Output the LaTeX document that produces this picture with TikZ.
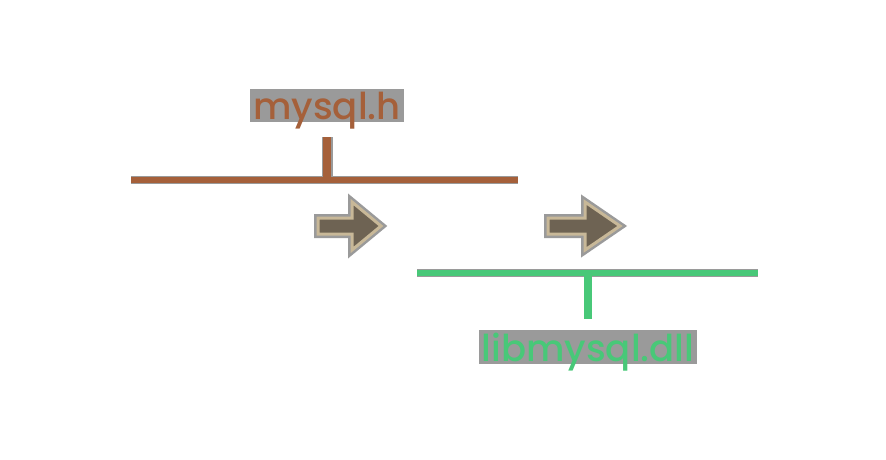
\documentclass[tikz,border=0pt]{standalone}
\usepackage{fontspec}
\setmainfont{Poppins}
\newfontfamily\popmed{Poppins Medium}
\definecolor{hbrown}{HTML}{A5603A}
\definecolor{dllgreen}{HTML}{48C878}
\definecolor{halo}{HTML}{9A9A9A}
\definecolor{arrowdark}{HTML}{6E6353}
\definecolor{arrowrim}{HTML}{C8B898}
\tikzset{
  halotext/.style={fill=halo, inner sep=3pt, text depth=0pt, anchor=base, font=\popmed\fontsize{37}{37}\selectfont},
  haloline/.style={draw=halo, line width=8pt},
  bar/.style={line width=6pt},
  stem/.style={line width=8pt},
  fatarrow/.style={fill=arrowdark, draw=arrowrim, line width=3pt, line join=miter},
  arrowhalo/.style={draw=halo, fill=halo, line width=8pt, line join=miter}
}
\begin{document}
\begin{tikzpicture}[x=1pt,y=-1pt]
  \useasboundingbox[fill=white] (0,0) rectangle (886,460);
  % header side
  \node[halotext, text=hbrown] (mysqlh) at (327,119) {mysql.h};
  \coordinate (hL) at (131,180);
  \coordinate (hR) at (518,180);
  \coordinate (hTop) at (327,137);
  \coordinate (hFoot) at (327,180);
  \draw[haloline] (hL) -- (hR);
  \draw[haloline, line width=11pt] (hTop) -- (hFoot);
  \draw[bar, hbrown] (hL) -- (hR);
  \draw[stem, hbrown] (hTop) -- (hFoot);
  % arrows
  \foreach \tail/\neck/\tip in {318/352/381, 548/585/620} {
    \draw[arrowhalo] (\tail,218) -- (\neck,218) -- (\neck,202) -- (\tip,226)
      -- (\neck,250) -- (\neck,234) -- (\tail,234) -- cycle;
    \draw[fatarrow] (\tail,218) -- (\neck,218) -- (\neck,202) -- (\tip,226)
      -- (\neck,250) -- (\neck,234) -- (\tail,234) -- cycle;
  }
  % library side
  \coordinate (dL) at (417,273);
  \coordinate (dR) at (758,273);
  \coordinate (dHead) at (588,273);
  \coordinate (dBot) at (588,319);
  \draw[haloline] (dL) -- (dR);
  \draw[bar, dllgreen] (dL) -- (dR);
  \draw[stem, dllgreen] (dHead) -- (dBot);
  \node[halotext, text=dllgreen] (libdll) at (588,361) {libmysql.dll};
\end{tikzpicture}
\end{document}
